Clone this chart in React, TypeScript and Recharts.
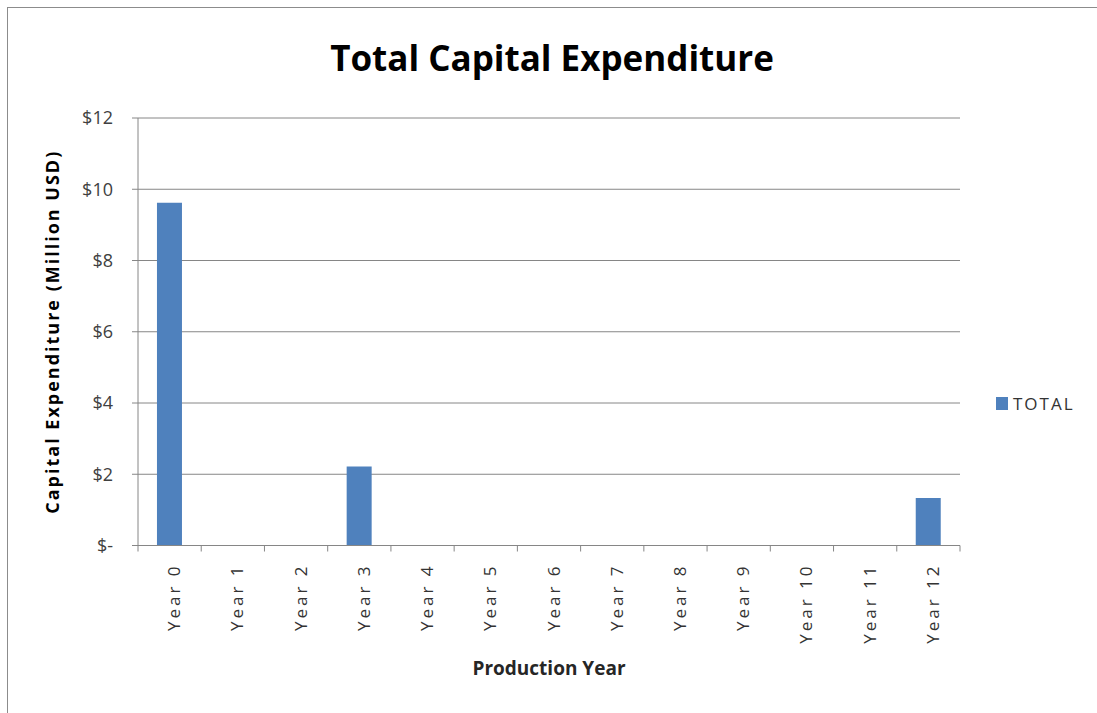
import React from 'react';
import { BarChart, Bar, XAxis, YAxis, CartesianGrid, Legend, Label } from 'recharts';

const years = [
  'Year 0', 'Year 1', 'Year 2', 'Year 3', 'Year 4', 'Year 5', 'Year 6',
  'Year 7', 'Year 8', 'Year 9', 'Year 10', 'Year 11', 'Year 12',
];
// million USD
const totals = [9.62, 0, 0, 2.22, 0, 0, 0, 0, 0, 0, 0, 0, 1.33];
const yTicks = [0, 2, 4, 6, 8, 10, 12];

const data = years.map((name, i) => ({ name, TOTAL: totals[i] }));

const FONT = '"Open Sans", "DejaVu Sans", sans-serif';
const AXIS = '#868686';
const BLUE = '#4F81BD';

const money = (v: number) => (v === 0 ? '$-' : `$${v}`);

// Excel-style tick marks sit on category boundaries, not under the label
const YearTick = (props: any) => {
  const { x, y, payload, index, visibleTicksCount } = props;
  const half = payload.offset || 0;
  const top = y - 6;
  return (
    <g>
      <line x1={x - half} x2={x - half} y1={top} y2={top + 6} stroke={AXIS} />
      {index === visibleTicksCount - 1 && (
        <line x1={x + half} x2={x + half} y1={top} y2={top + 6} stroke={AXIS} />
      )}
      <text
        transform={`translate(${x + 4},${y + 12}) rotate(-90)`}
        textAnchor='end'
        dominantBaseline='central'
        fontFamily={FONT}
        fontSize={17}
        letterSpacing={3}
        fill='#333'
      >
        {payload.value}
      </text>
    </g>
  );
};

const LegendBox = (props: any) => {
  const items = props.payload || [];
  return (
    <div>
      {items.map((it: any) => (
        <div key={it.value} style={{ display: 'flex', alignItems: 'center' }}>
          <span style={{ width: 12, height: 13, background: BLUE, marginRight: 5 }} />
          <span style={{ fontFamily: FONT, fontSize: 17, letterSpacing: 2, color: '#333' }}>
            {it.value}
          </span>
        </div>
      ))}
    </div>
  );
};

const App = () => {
  return (
    <div
      style={{
        position: 'absolute',
        left: 0,
        top: 0,
        width: 1097,
        height: 713,
        overflow: 'hidden',
        background: '#fff',
      }}
    >
      <div
        style={{
          position: 'absolute',
          left: 7,
          top: 7,
          width: 1110,
          height: 720,
          border: '1px solid #8c8c8c',
        }}
      />
      <div
        style={{
          position: 'absolute',
          left: 0,
          top: 34,
          width: 1104,
          textAlign: 'center',
          fontFamily: FONT,
          fontWeight: 700,
          fontSize: 35,
          color: '#000',
        }}
      >
        Total Capital Expenditure
      </div>
      <BarChart
        width={1097}
        height={713}
        data={data}
        barCategoryGap='30%'
        margin={{ top: 118, right: 137, left: 0, bottom: 0 }}
      >
        <CartesianGrid vertical={false} stroke={AXIS} />
        <YAxis
          width={138}
          domain={[0, 12]}
          ticks={yTicks}
          tickFormatter={money}
          stroke={AXIS}
          tickSize={6}
          tickMargin={19}
          tick={{ fill: '#404040', fontSize: 18, fontFamily: FONT }}
        >
          <Label
            value='Capital Expenditure (Million USD)'
            angle={-90}
            position='center'
            dx={-16}
            style={{ fontFamily: FONT, fontWeight: 700, fontSize: 18, letterSpacing: 2, fill: '#000' }}
          />
        </YAxis>
        <XAxis
          dataKey='name'
          interval={0}
          height={167.5}
          stroke={AXIS}
          tickLine={false}
          tickSize={6}
          tickMargin={0}
          tick={<YearTick />}
        >
          <Label
            value='Production Year'
            position='center'
            dy={39}
            style={{ fontFamily: FONT, fontWeight: 700, fontSize: 19, fill: '#262626' }}
          />
        </XAxis>
        <Legend
          align='center'
          verticalAlign='middle'
          layout='horizontal'
          content={<LegendBox />}
          wrapperStyle={{ left: 996, top: 392, width: 'auto', height: 'auto' }}
        />
        <Bar dataKey='TOTAL' fill={BLUE} isAnimationActive={false} />
      </BarChart>
    </div>
  );
};

export default App;
